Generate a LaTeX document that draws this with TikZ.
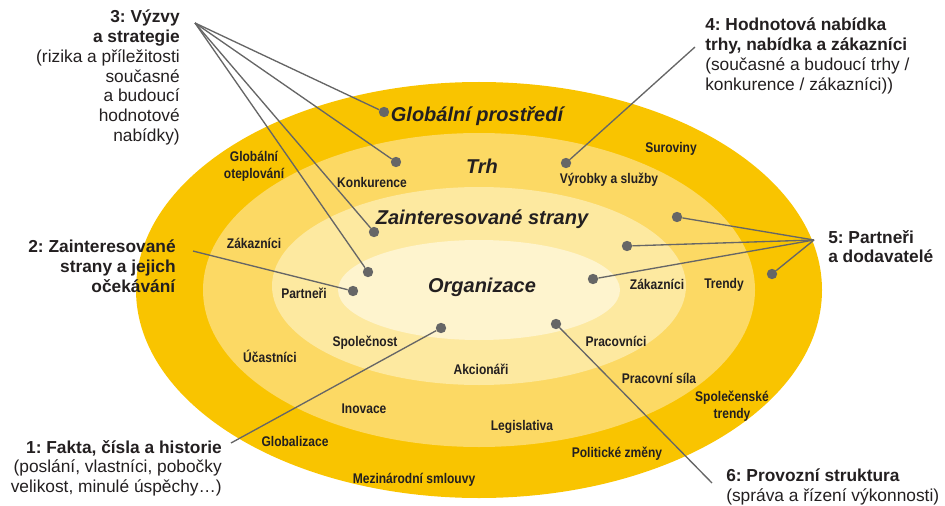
\documentclass[tikz,border=0pt]{standalone}
\usepackage{fontspec}
\setmainfont{Liberation Sans}
\newfontfamily\narrowfont[FakeStretch=0.86]{Liberation Sans}
\usepackage{tikz}
\usetikzlibrary{
  positioning, calc
}
\frenchspacing
\definecolor{ringA}{HTML}{F9C400}
\definecolor{ringB}{HTML}{FCD964}
\definecolor{ringC}{HTML}{FDE9A0}
\definecolor{ringD}{HTML}{FEF4CE}
\definecolor{dotgray}{HTML}{666666}
\definecolor{textdark}{HTML}{231F20}

\begin{document}
\begin{tikzpicture}[x=0.75pt, y=-0.75pt,
  dot/.style={circle, fill=dotgray, inner sep=0pt, minimum size=7.8pt},
  conn/.style={draw=dotgray, line width=1pt},
  item/.style={font=\narrowfont\bfseries\fontsize{10.5}{12.75}\selectfont,
    text=textdark, align=center, inner sep=0pt},
  ringlabel/.style={font=\bfseries\itshape\fontsize{15}{18}\selectfont,
    text=textdark, inner sep=0pt, anchor=base},
  callout/.style={font=\fontsize{13}{14.8}\selectfont, text=textdark, inner sep=0pt}]
  \useasboundingbox (0,0) rectangle (945,506);

  % rings
  \foreach \rx/\ry/\cy/\col in {343/208/290/ringA, 276/157/290/ringB,
                                 207/99/286/ringC, 141/50/290/ringD} {
    \fill[\col] (479,\cy) ellipse [x radius=\rx, y radius=\ry];
  }

  \node[ringlabel] (globalni) at (477,122) {Globální prostředí};
  \node[ringlabel] (trh) at (482,173) {Trh};
  \node[ringlabel] (zaint) at (482,224) {Zainteresované strany};
  \node[ringlabel] (org) at (482,292) {Organizace};

  % items in the rings
  \node[item] (oteplovani) at (254,166) {Globální\\oteplování};
  \node[item, anchor=base] (suroviny) at (671,152) {Suroviny};
  \node[item, anchor=base] (konkurence) at (372,187) {Konkurence};
  \node[item, anchor=base] (vyrobky) at (609,183) {Výrobky a služby};
  \node[item, anchor=base] (zakaznici1) at (254,248) {Zákazníci};
  \node[item, anchor=base] (partneri) at (304,298) {Partneři};
  \node[item, anchor=base] (zakaznici2) at (657,289) {Zákazníci};
  \node[item, anchor=base] (trendy) at (724,288) {Trendy};
  \node[item, anchor=base] (spolecnost) at (365,346) {Společnost};
  \node[item, anchor=base] (pracovnici) at (616,346) {Pracovníci};
  \node[item, anchor=base] (ucastnici) at (270,362) {Účastníci};
  \node[item, anchor=base] (akcionari) at (481,374) {Akcionáři};
  \node[item, anchor=base] (sila) at (659,383) {Pracovní síla};
  \node[item, anchor=base] (inovace) at (364,413) {Inovace};
  \node[item] (spoltrendy) at (732,406) {Společenské\\trendy};
  \node[item, anchor=base] (legislativa) at (522,430) {Legislativa};
  \node[item, anchor=base] (globalizace) at (295,446) {Globalizace};
  \node[item, anchor=base] (politicke) at (617,457) {Politické změny};
  \node[item, anchor=base] (smlouvy) at (414,483) {Mezinárodní smlouvy};

  % callouts
  \node[callout, align=right, anchor=north east] (t3) at (180,10)
    {\textbf{3: Výzvy}\\\textbf{a strategie}\\(rizika a příležitosti\\současné\\a budoucí\\hodnotové\\nabídky)};
  \node[callout, align=left, anchor=north west] (t4) at (705,18)
    {\textbf{4: Hodnotová nabídka}\\\textbf{trhy, nabídka a zákazníci}\\(současné a budoucí trhy /\\konkurence / zákazníci))};
  \node[callout, align=left, anchor=north west] (t5) at (828,230)
    {\textbf{5: Partneři}\\\textbf{a dodavatelé}};
  \node[callout, align=right, anchor=north east] (t2) at (176,240)
    {\textbf{2: Zainteresované}\\\textbf{strany a jejich}\\\textbf{očekávání}};
  \node[callout, align=right, anchor=north east] (t1) at (222,440)
    {\textbf{1: Fakta, čísla a historie}\\(poslání, vlastníci, pobočky\\velikost, minulé úspěchy…)};
  \node[callout, align=left, anchor=north west] (t6) at (726,469)
    {\textbf{6: Provozní struktura}\\(správa a řízení výkonnosti)};

  % dots
  \node[dot] (d3a) at (384,112) {};
  \node[dot] (d3b) at (396,162) {};
  \node[dot] (d3c) at (374,232) {};
  \node[dot] (d3d) at (368,272) {};
  \node[dot] (d2) at (353,291) {};
  \node[dot] (d1) at (441,328) {};
  \node[dot] (d6) at (556,324) {};
  \node[dot] (d4) at (566,163) {};
  \node[dot] (d5a) at (677,217) {};
  \node[dot] (d5b) at (627,246) {};
  \node[dot] (d5c) at (593,279) {};
  \node[dot] (d5d) at (772,274) {};

  \coordinate (c3) at (195,23);
  \coordinate (c2) at (193,251);
  \coordinate (c1) at (231,443);
  \coordinate (c6) at (712,483);
  \coordinate (c4) at (695,47);
  \coordinate (c5) at (814,240);

  \foreach \d in {d3a,d3b,d3c,d3d} \draw[conn] (c3) -- (\d);
  \foreach \d in {d5a,d5b,d5c,d5d} \draw[conn] (c5) -- (\d);
  \draw[conn] (c2) -- (d2);
  \draw[conn] (c1) -- (d1);
  \draw[conn] (c6) -- (d6);
  \draw[conn] (c4) -- (d4);
\end{tikzpicture}
\end{document}
